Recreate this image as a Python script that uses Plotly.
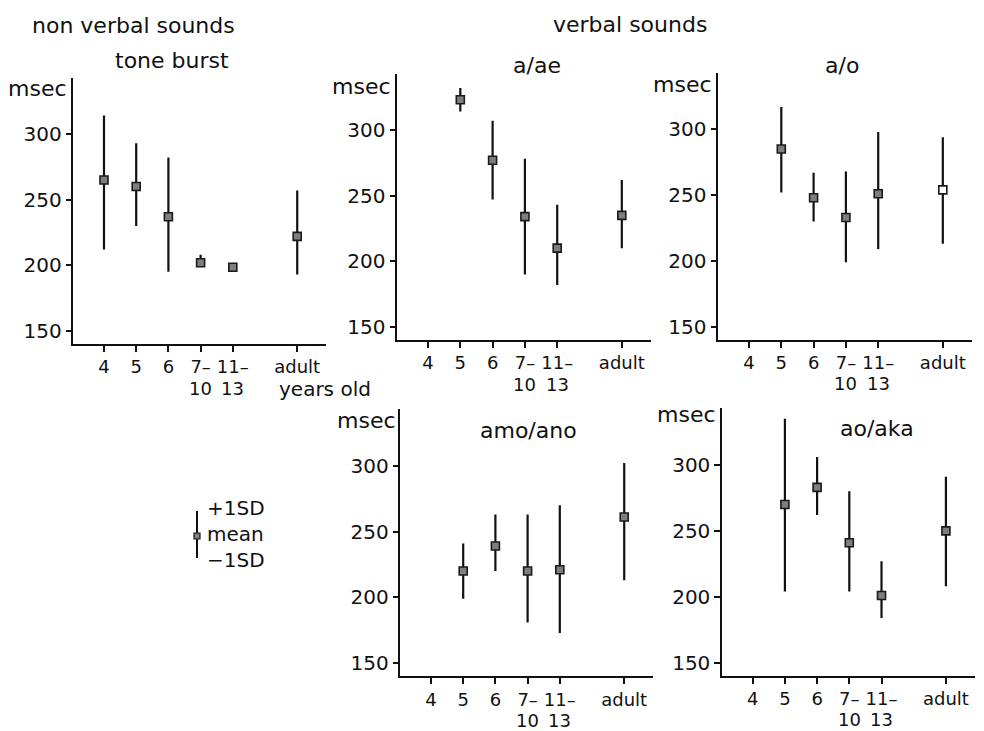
import plotly.graph_objects as go

W, H = 984, 731

# ---- data ----
categories = ["4", "5", "6", "7–", "11–", "adult"]
second_line = ["", "", "", "10", "13", ""]
x_pos = [1, 2, 3, 4, 5, 7]
y_ticks = [150, 200, 250, 300]

tone_mean = [265, 260, 237, 202, 198.5, 222]
tone_hi = [314, 293, 282, 208, 198.5, 257]
tone_lo = [212, 230, 195, 199, 198.5, 193]

aae_mean = [None, 323, 277, 234, 210, 235]
aae_hi = [None, 332, 307, 278, 243, 262]
aae_lo = [None, 314, 247, 190, 182, 210]

ao_mean = [None, 285, 248, 233, 251, 254]
ao_hi = [None, 317, 267, 268, 298, 294]
ao_lo = [None, 252, 230, 199, 209, 213]

amo_mean = [None, 220, 239, 220, 221, 261]
amo_hi = [None, 241, 263, 263, 270, 302]
amo_lo = [None, 199, 220, 181, 173, 213]

aka_mean = [None, 270, 283, 241, 201, 250]
aka_hi = [None, 335, 306, 280, 227, 291]
aka_lo = [None, 204, 262, 204, 184, 208]

legend_lines = ["+1SD", "mean", "−1SD"]

panels = [
    ("tone burst", tone_mean, tone_hi, tone_lo, [False] * 6),
    ("a/ae", aae_mean, aae_hi, aae_lo, [False] * 6),
    ("a/o", ao_mean, ao_hi, ao_lo, [False, False, False, False, False, True]),
    ("amo/ano", amo_mean, amo_hi, amo_lo, [False] * 6),
    ("ao/aka", aka_mean, aka_hi, aka_lo, [False] * 6),
]

# ---- layout geometry (pixels) ----
geo = [
    dict(x=(73.4, 326.2), y=(77.5, 344.1), title=(172, 60), msec=(69, 88)),
    dict(x=(397.3, 650.9), y=(73.5, 340.1), title=(537, 65), msec=(393, 87)),
    dict(x=(718.3, 971.9), y=(72.7, 339.9), title=(842, 65), msec=(714, 85)),
    dict(x=(400.4, 653.2), y=(409.1, 676.4), title=(528, 430), msec=(398, 420)),
    dict(x=(722.1, 974.9), y=(408.3, 675.9), title=(877, 428), msec=(718, 415)),
]

FONT = "DejaVu Sans"
FS_TICK = 18
FS_TEXT = 22
INK = "#111111"


def px(x):
    return x / W


def py(y):
    return 1 - y / H


fig = go.Figure()
annotations = []
layout = {}

for i, ((title, mean, hi, lo, open_sq), g) in enumerate(zip(panels, geo)):
    n = "" if i == 0 else str(i + 1)
    xa, ya = "x" + n, "y" + n
    err_p = [None if m is None else h - m for m, h in zip(mean, hi)]
    err_m = [None if m is None else m - l for m, l in zip(mean, lo)]
    fills = ["white" if o else "#7e7e7e" for o in open_sq]
    fig.add_trace(go.Scatter(
        x=x_pos, y=mean, mode="markers", xaxis=xa, yaxis=ya,
        marker=dict(symbol="square", size=8, color=fills,
                    line=dict(color="#1a1a1a", width=1.6)),
        error_y=dict(type="data", array=err_p, arrayminus=err_m,
                     symmetric=False, color=INK, thickness=2.2, width=0),
        showlegend=False, hoverinfo="skip",
    ))
    layout["xaxis" + n] = dict(
        domain=[px(g["x"][0]), px(g["x"][1])], range=[0.05, 7.9],
        anchor=ya, showline=True, linecolor=INK, linewidth=1.5,
        showgrid=False, zeroline=False, ticks="outside", ticklen=6,
        tickwidth=1.5, tickcolor=INK, tickvals=x_pos, ticktext=categories,
        ticklabelstandoff=0,
        tickfont=dict(family=FONT, size=FS_TICK, color=INK),
    )
    layout["yaxis" + n] = dict(
        domain=[py(g["y"][1]), py(g["y"][0])], range=[140, 343],
        anchor=xa, showline=True, linecolor=INK, linewidth=1.5,
        showgrid=False, zeroline=False, ticks="outside", ticklen=6,
        tickwidth=1.5, tickcolor=INK, tickvals=y_ticks,
        tickfont=dict(family=FONT, size=20, color=INK),
    )
    annotations.append(dict(
        text=title, x=px(g["title"][0]), y=py(g["title"][1]), xref="paper",
        yref="paper", xanchor="center", yanchor="middle", showarrow=False,
        font=dict(family=FONT, size=FS_TEXT, color=INK)))
    annotations.append(dict(
        text="msec", x=px(g["msec"][0]), y=py(g["msec"][1]), xref="paper",
        yref="paper", xanchor="right", yanchor="middle", showarrow=False,
        font=dict(family=FONT, size=FS_TEXT, color=INK)))
    axis_bottom = g["y"][1]
    for xp, lab in zip(x_pos, second_line):
        if lab:
            annotations.append(dict(
                text=lab, x=xp, xref=xa, y=py(axis_bottom + 44), yref="paper",
                xanchor="center", yanchor="middle", showarrow=False,
                font=dict(family=FONT, size=FS_TICK, color=INK)))

# free texts
annotations += [
    dict(text="non verbal sounds", x=px(30), y=py(26), xanchor="left",
         size=FS_TEXT),
    dict(text="verbal sounds", x=px(551), y=py(24), xanchor="left",
         size=FS_TEXT),
    dict(text="years old", x=px(277), y=py(389), xanchor="left", size=20),
    dict(text="<br>".join(legend_lines), x=px(205), y=py(534),
         xanchor="left", align="left", size=20),
]
for a in annotations[-4:]:
    sz = a.pop("size")
    a.update(xref="paper", yref="paper", yanchor="middle", showarrow=False,
             font=dict(family=FONT, size=sz, color=INK))

# legend key glyph
shapes = [
    dict(type="line", xref="paper", yref="paper", x0=px(197), x1=px(197),
         y0=py(511), y1=py(558), line=dict(color=INK, width=2)),
    dict(type="rect", xref="paper", yref="paper", x0=px(194), x1=px(200),
         y0=py(533), y1=py(539), fillcolor="#7e7e7e",
         line=dict(color="#1a1a1a", width=1.2)),
]

fig.update_layout(
    width=W, height=H, margin=dict(l=0, r=0, t=0, b=0),
    paper_bgcolor="white", plot_bgcolor="white",
    annotations=annotations, shapes=shapes, **layout,
)

fig.write_html("out.html")
